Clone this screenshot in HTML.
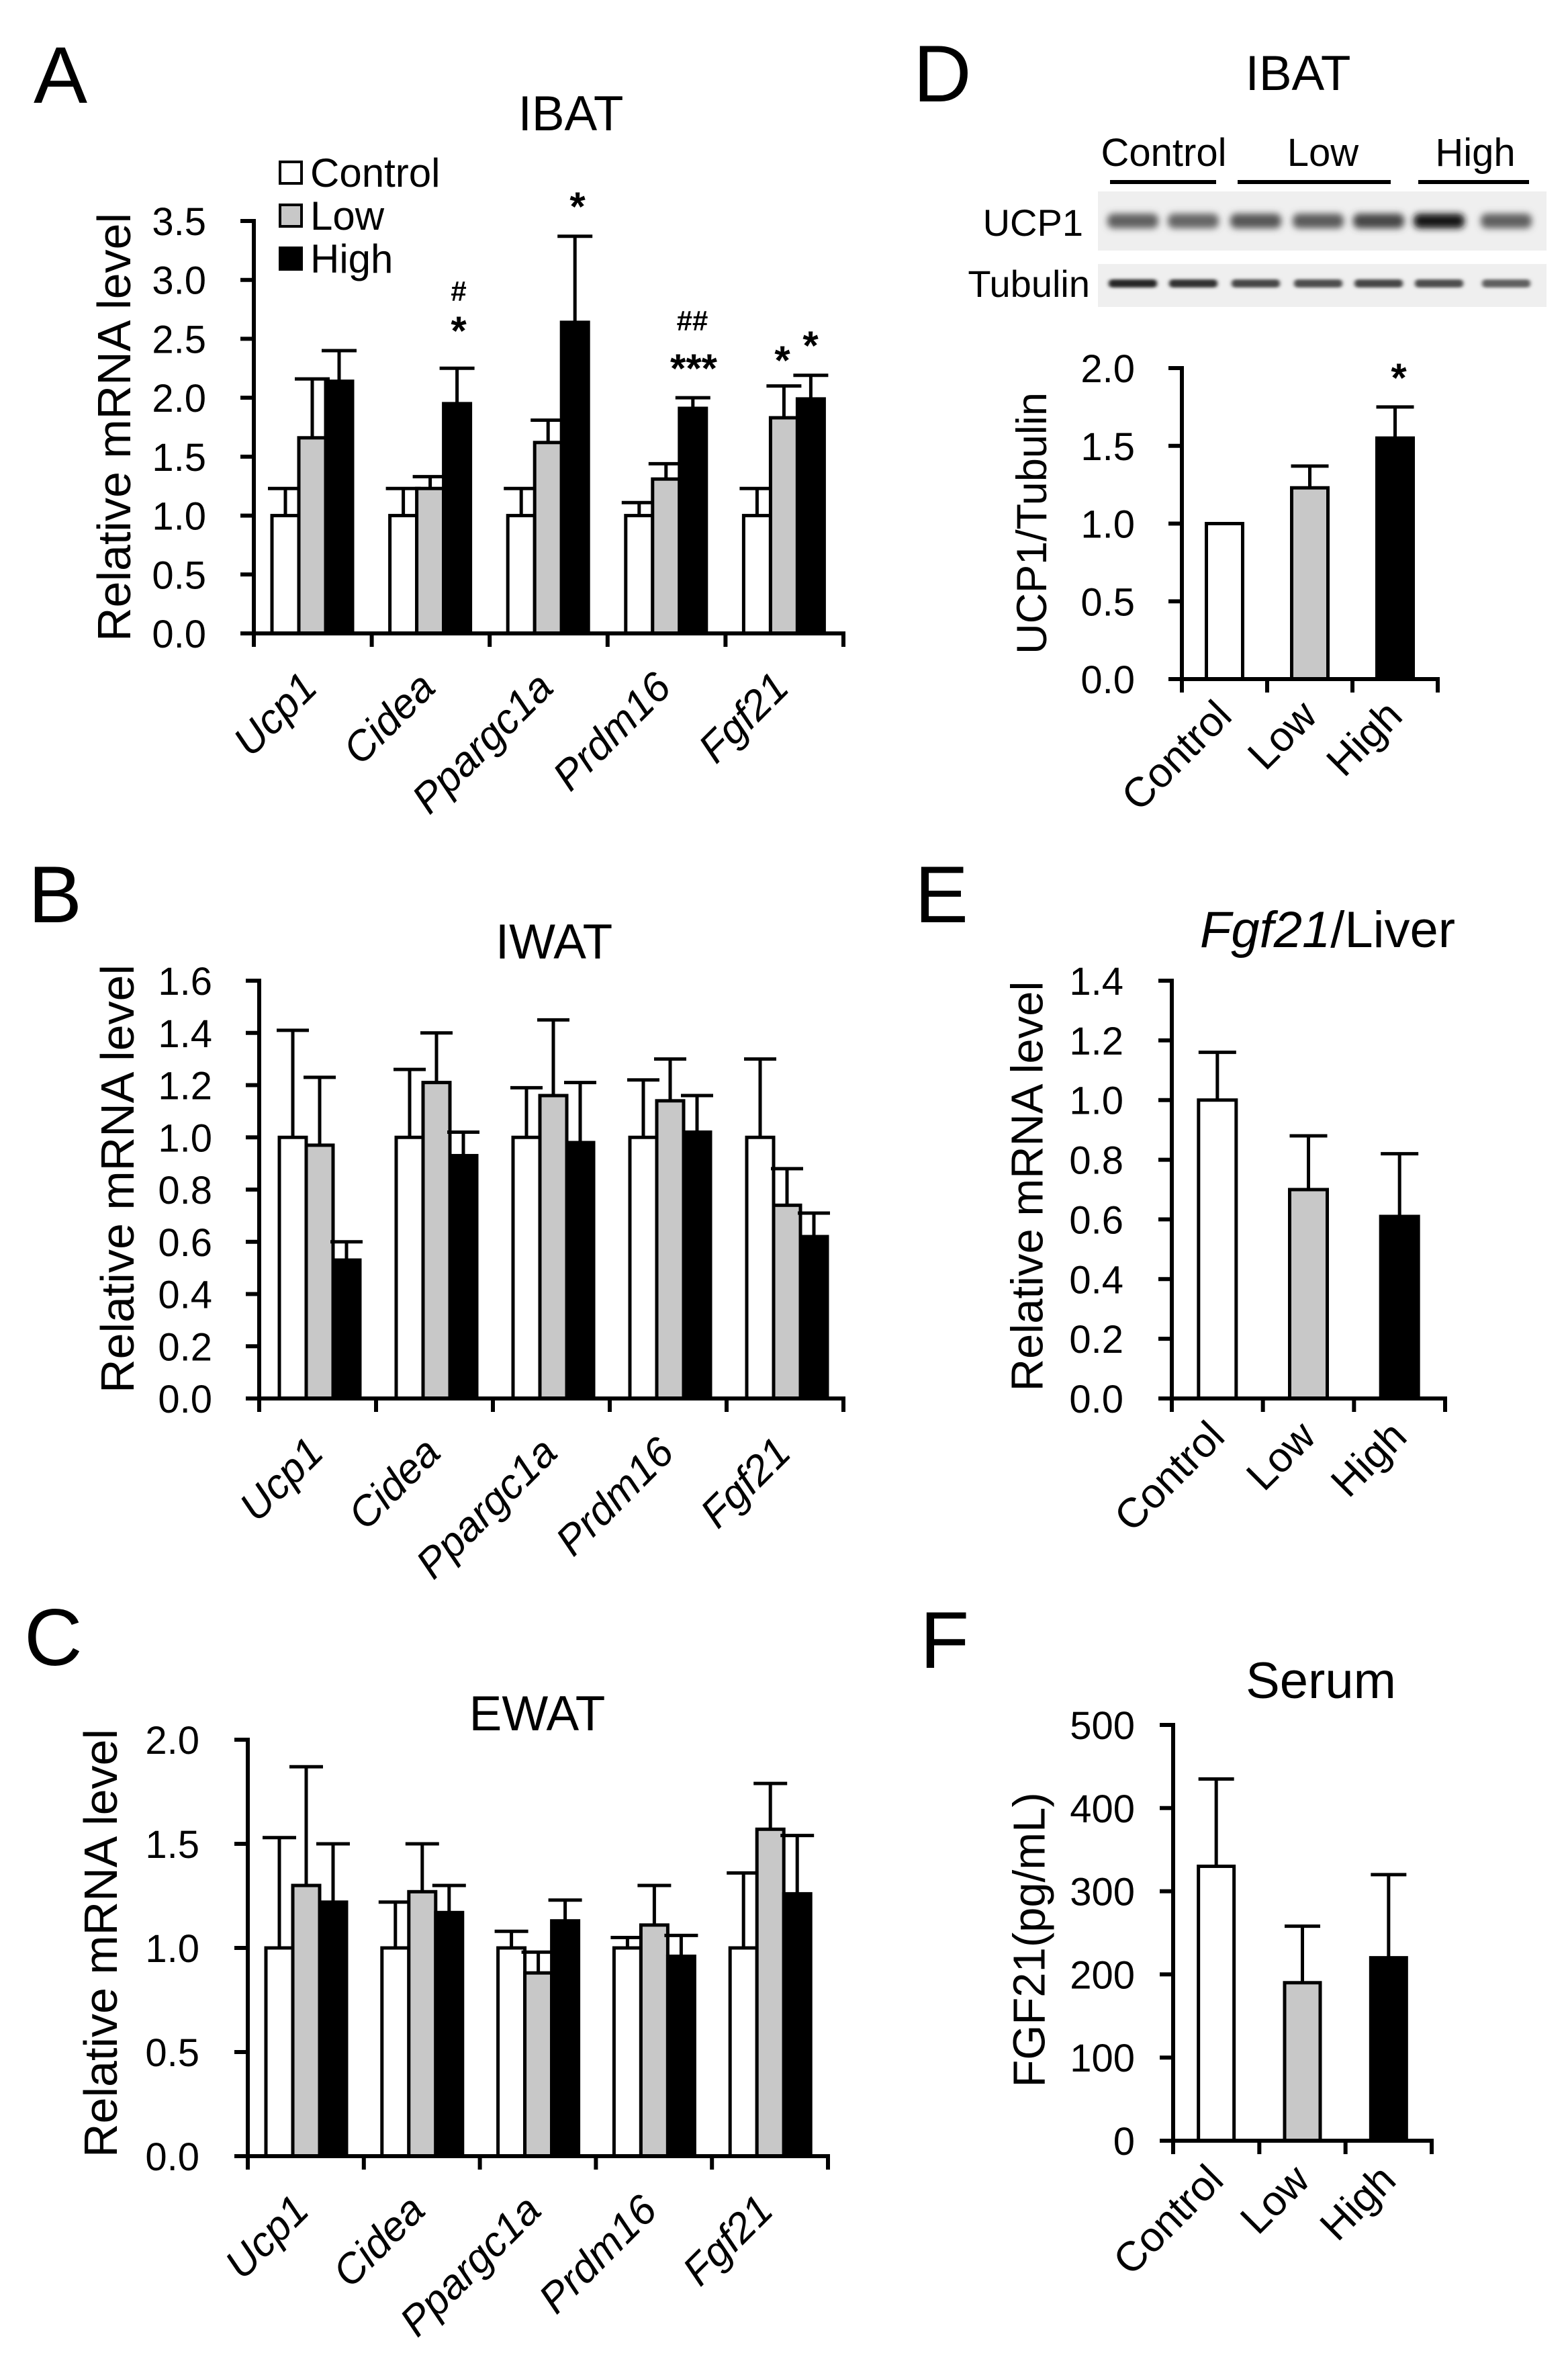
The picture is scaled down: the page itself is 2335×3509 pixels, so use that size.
<!DOCTYPE html>
<html><head><meta charset="utf-8">
<style>
html,body{margin:0;padding:0;background:#fff;}
svg{display:block;font-family:"Liberation Sans",Arial,sans-serif;}
</style></head>
<body>
<svg id="fig" width="2335" height="3509" viewBox="0 0 2335 3509" xmlns="http://www.w3.org/2000/svg">
<defs>
<filter id="blur" x="-30%" y="-100%" width="160%" height="300%"><feGaussianBlur stdDeviation="5 5"/></filter>
<filter id="blur2" x="-30%" y="-100%" width="160%" height="300%"><feGaussianBlur stdDeviation="3 2"/></filter>
</defs>
<g font-size="120">
<text x="50" y="153">A</text>
<text x="42" y="1373">B</text>
<text x="36" y="2479">C</text>
<text x="1360" y="151">D</text>
<text x="1362" y="1373">E</text>
<text x="1370" y="2483">F</text>
</g>
<g>
<text x="1733" y="247" font-size="58" text-anchor="middle">Control</text>
<text x="1970" y="247" font-size="58" text-anchor="middle">Low</text>
<text x="2197" y="247" font-size="58" text-anchor="middle">High</text>
<rect x="1653" y="268" width="158" height="6"/>
<rect x="1843" y="268" width="228" height="6"/>
<rect x="2112" y="268" width="165" height="6"/>
<text x="1613" y="351" font-size="56" text-anchor="end">UCP1</text>
<text x="1623" y="442" font-size="56" text-anchor="end">Tubulin</text>
<rect x="1635" y="285" width="668" height="88" fill="#efefef"/>
<rect x="1635" y="393" width="668" height="64" fill="#efefef"/>
<g id="bands"></g>
</g>
<g id="charts"></g>
</svg>
<script>
// ---- data ----
const genes = ["Ucp1","Cidea","Ppargc1a","Prdm16","Fgf21"];
const groups = ["Control","Low","High"];
const ibatMean = [[1.0,1.66,2.14],[1.0,1.23,1.95],[1.0,1.62,2.64],[1.0,1.31,1.91],[1.0,1.83,1.99]];
const ibatErr  = [[1.23,2.16,2.40],[1.23,1.33,2.25],[1.23,1.81,3.37],[1.11,1.44,2.00],[1.23,2.10,2.19]];
const iwatMean = [[1.0,0.97,0.53],[1.0,1.21,0.93],[1.0,1.16,0.98],[1.0,1.14,1.02],[1.0,0.74,0.62]];
const iwatErr  = [[1.41,1.23,0.60],[1.26,1.40,1.02],[1.19,1.45,1.21],[1.22,1.30,1.16],[1.30,0.88,0.71]];
const ewatMean = [[1.0,1.30,1.22],[1.0,1.27,1.17],[1.0,0.88,1.13],[1.0,1.11,0.96],[1.0,1.57,1.26]];
const ewatErr  = [[1.53,1.87,1.50],[1.22,1.50,1.30],[1.08,0.98,1.23],[1.05,1.30,1.06],[1.36,1.79,1.54]];
const ucp1Mean = [1.0,1.23,1.55];
const ucp1Err  = [1.0,1.37,1.75];
const liverMean = [1.0,0.70,0.61];
const liverErr  = [1.16,0.88,0.82];
const serumMean = [330,190,220];
const serumErr  = [435,258,320];
const ticksA = ["0.0","0.5","1.0","1.5","2.0","2.5","3.0","3.5"];
const ticksB = ["0.0","0.2","0.4","0.6","0.8","1.0","1.2","1.4","1.6"];
const ticksC = ["0.0","0.5","1.0","1.5","2.0"];
const ticksD = ["0.0","0.5","1.0","1.5","2.0"];
const ticksE = ["0.0","0.2","0.4","0.6","0.8","1.0","1.2","1.4"];
const ticksF = ["0","100","200","300","400","500"];
const bandUcp1 = [0.62,0.6,0.66,0.64,0.72,0.92,0.62];
const bandTub  = [0.85,0.8,0.72,0.7,0.72,0.7,0.62];

const NS="http://www.w3.org/2000/svg";
const fills=["#ffffff","#c8c8c8","#000000"];
const root=document.getElementById('charts');
function mk(tag,attrs,parent){const e=document.createElementNS(NS,tag);for(const k in attrs)e.setAttribute(k,attrs[k]);(parent||root).appendChild(e);return e;}

function chart(cfg){
  const g=mk('g',{});
  
  
  const ticks=cfg.ticks, ymax=parseFloat(ticks[ticks.length-1]);
  const y=v=>cfg.y0-(v/ymax)*(cfg.y0-cfg.ytop);
  const ncat=cfg.cats.length, G=(cfg.xend-cfg.x0)/ncat;
  const t=mk('text',{x:cfg.tx,y:cfg.ty,'font-size':cfg.tfs||73,'text-anchor':'middle'},g);
  t.innerHTML=cfg.title;
  
  
  const yt=mk('text',{x:0,y:0,'font-size':cfg.ytfs,'text-anchor':'middle','dominant-baseline':'central',transform:`translate(${cfg.ytx},${cfg.yty}) rotate(-90)`},g);
  yt.textContent=cfg.ytitle;
  
  
  cfg.means.forEach((row,i)=>{
    const vals=Array.isArray(row)?row:[row];
    const errs=Array.isArray(cfg.errs[i])?cfg.errs[i]:[cfg.errs[i]];
    vals.forEach((v,j)=>{
      let bx,bw=cfg.bw;
      if(Array.isArray(row)) bx=cfg.x0+i*G+cfg.off+j*bw;
      else bx=cfg.x0+(i+0.5)*G-bw/2;
      const fi=Array.isArray(row)?j:i;
      const cx=bx+bw/2, cw=cfg.cap;
      const e=mk('line',{x1:cx,x2:cx,y1:y(v),y2:y(errs[j]),stroke:'#000','stroke-width':5},g);
      
      
      const c=mk('line',{x1:cx-cw/2,x2:cx+cw/2,y1:y(errs[j]),y2:y(errs[j]),stroke:'#000','stroke-width':5},g);
      
      
      const r=mk('rect',{x:bx,y:y(v),width:bw,height:cfg.y0-y(v),fill:fills[fi],stroke:'#000','stroke-width':5},g);
      
      
    });
  });
  const ya=mk('line',{x1:cfg.x0,x2:cfg.x0,y1:cfg.ytop-3,y2:cfg.y0+3,stroke:'#000','stroke-width':6},g);
  
  
  const xa=mk('line',{x1:cfg.x0-20,x2:cfg.xend+3,y1:cfg.y0,y2:cfg.y0,stroke:'#000','stroke-width':6},g);
  
  
  ticks.forEach(tk=>{
    const v=parseFloat(tk), yy=y(v);
    const l=mk('line',{x1:cfg.x0-20,x2:cfg.x0,y1:yy,y2:yy,stroke:'#000','stroke-width':6},g);
    
    
    const tl=mk('text',{x:cfg.x0-cfg.tgap,y:yy+21,'font-size':58,'text-anchor':'end'},g);
    tl.textContent=tk;
    
    
  });
  for(let i=0;i<=ncat;i++){
    const xx=cfg.x0+i*G;
    const l=mk('line',{x1:xx,x2:xx,y1:cfg.y0,y2:cfg.y0+20,stroke:'#000','stroke-width':6},g);
    
    
  }
  cfg.cats.forEach((c,i)=>{
    const ax=cfg.x0+(i+0.5)*G+cfg.lx, ay=cfg.y0+cfg.ly;
    const tl=mk('text',{x:ax,y:ay,'font-size':cfg.cfs,'text-anchor':'end','font-style':cfg.italic?'italic':'normal',transform:`rotate(-45 ${ax} ${ay})`},g);
    tl.textContent=c;
    
    
  });
  return {g,y,G};
}

const A=chart({name:'ibat-mrna-chart',title:'IBAT',tx:850,ty:194,ytitle:'Relative mRNA level',ytfs:70,ytx:170,yty:636,
  x0:378,xend:1256,y0:943,ytop:329,ticks:ticksA,means:ibatMean,errs:ibatErr,off:27,bw:40,cap:52,tgap:71,cats:genes,italic:true,cfs:62,lx:10,ly:84});
const B=chart({name:'iwat-mrna-chart',title:'IWAT',tx:825,ty:1427,ytitle:'Relative mRNA level',ytfs:70,ytx:175,yty:1755,
  x0:386,xend:1256,y0:2082,ytop:1460,ticks:ticksB,means:iwatMean,errs:iwatErr,off:30,bw:40,cap:48,tgap:70,cats:genes,italic:true,cfs:62,lx:12,ly:84});
const C=chart({name:'ewat-mrna-chart',title:'EWAT',tx:800,ty:2576,ytitle:'Relative mRNA level',ytfs:70,ytx:150,yty:2893,
  x0:369,xend:1233,y0:3210,ytop:2590,ticks:ticksC,means:ewatMean,errs:ewatErr,off:27,bw:40,cap:50,tgap:72,cats:genes,italic:true,cfs:62,lx:8,ly:84});
const D=chart({name:'ucp1-tubulin-chart',title:'IBAT',tx:1933,ty:134,ytitle:'UCP1/Tubulin',ytfs:63,ytx:1537,yty:779,
  x0:1760,xend:2141,y0:1011,ytop:548,ticks:ticksD,means:ucp1Mean,errs:ucp1Err,bw:54,cap:56,tgap:70,cats:groups,italic:false,cfs:62,lx:14,ly:58});
const E=chart({name:'liver-fgf21-chart',title:'<tspan font-style="italic">Fgf21</tspan>/Liver',tx:1977,ty:1410,tfs:76,ytitle:'Relative mRNA level',ytfs:67,ytx:1530,yty:1766,
  x0:1745,xend:2152,y0:2082,ytop:1460,ticks:ticksE,means:liverMean,errs:liverErr,bw:56,cap:56,tgap:72,cats:groups,italic:false,cfs:62,lx:14,ly:60});
const F=chart({name:'serum-fgf21-chart',title:'Serum',tx:1967,ty:2528,tfs:76,ytitle:'FGF21(pg/mL)',ytfs:67,ytx:1533,yty:2888,
  x0:1747,xend:2132,y0:3187,ytop:2568,ticks:ticksF,means:serumMean,errs:serumErr,bw:53,cap:53,tgap:57,cats:groups,italic:false,cfs:62,lx:14,ly:62});

// legend (panel A)
groups.forEach((n,i)=>{
  const yy=257+i*64;
  const s=mk('rect',{x:417,y:yy-16,width:32,height:32,fill:fills[i],stroke:'#000','stroke-width':4});
  
  
  const t=mk('text',{x:462,y:yy+21,'font-size':60});
  t.textContent=n;
  
  
});
function mark(txt,x,yy,fs,name){const t=mk('text',{x:x,y:yy,'font-size':fs,'text-anchor':'middle','font-weight':'bold'});t.textContent=txt;}
mark('#',683,448,42,'sig-hash-cidea');
mark('*',683,513,60,'sig-star-cidea');
mark('*',860,328,60,'sig-star-ppargc1a');
mark('##',1031,492,42,'sig-hash-prdm16');
mark('***',1033,569,60,'sig-star-prdm16');
mark('*',1165,557,60,'sig-star-fgf21-low');
mark('*',1207,535,60,'sig-star-fgf21-high');
mark('*',2083,583,60,'sig-star-ucp1-high');

// blot bands
const bg=document.getElementById('bands');
const laneX=[1687,1777,1870,1963,2053,2143,2243];
bandUcp1.forEach((d,i)=>{
  const c=Math.round(255*(1-d));
  const b=mk('rect',{x:laneX[i]-38,y:318,width:76,height:22,rx:9,fill:`rgb(${c},${c},${c})`,filter:'url(#blur)'},bg);
  
  
});
bandTub.forEach((d,i)=>{
  const c=Math.round(255*(1-d));
  const b=mk('rect',{x:laneX[i]-36,y:416,width:72,height:12,rx:5,fill:`rgb(${c},${c},${c})`,filter:'url(#blur2)'},bg);
  
  
});
</script>
</body></html>
